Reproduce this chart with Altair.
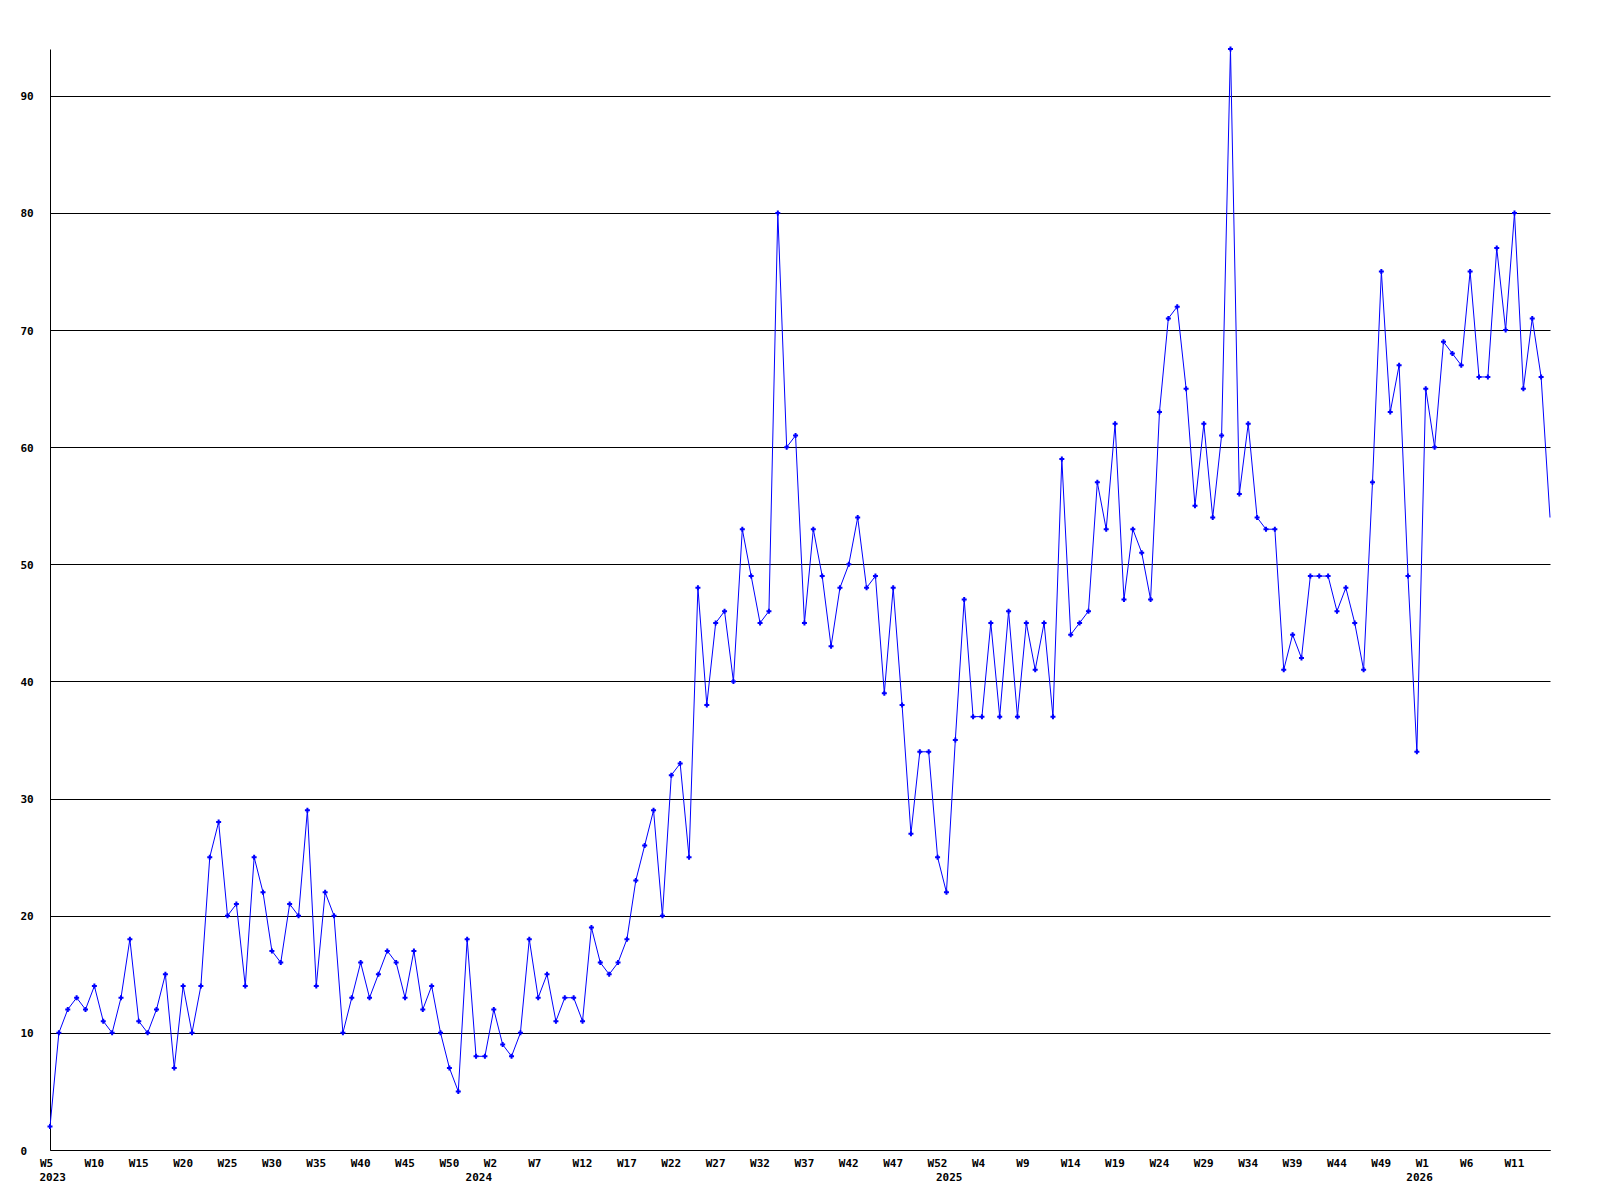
import altair as alt
import pandas as pd

# Weekly values, 2023 W5 .. 2026 W15
values = [
    2, 10, 12, 13, 12, 14, 11, 10, 13, 18,
    11, 10, 12, 15, 7, 14, 10, 14, 25, 28,
    20, 21, 14, 25, 22, 17, 16, 21, 20, 29,
    14, 22, 20, 10, 13, 16, 13, 15, 17, 16,
    13, 17, 12, 14, 10, 7, 5, 18, 8, 8,
    12, 9, 8, 10, 18, 13, 15, 11, 13, 13,
    11, 19, 16, 15, 16, 18, 23, 26, 29, 20,
    32, 33, 25, 48, 38, 45, 46, 40, 53, 49,
    45, 46, 80, 60, 61, 45, 53, 49, 43, 48,
    50, 54, 48, 49, 39, 48, 38, 27, 34, 34,
    25, 22, 35, 47, 37, 37, 45, 37, 46, 37,
    45, 41, 45, 37, 59, 44, 45, 46, 57, 53,
    62, 47, 53, 51, 47, 63, 71, 72, 65, 55,
    62, 54, 61, 94, 56, 62, 54, 53, 53, 41,
    44, 42, 49, 49, 49, 46, 48, 45, 41, 57,
    75, 63, 67, 49, 34, 65, 60, 69, 68, 67,
    75, 66, 66, 77, 70, 80, 65, 71, 66, 54,
]

tick_idx = [0, 5, 10, 15, 20, 25, 30, 35, 40, 45,
            50, 55, 60, 65, 70, 75, 80, 85, 90, 95, 100,
            105, 110, 115, 120, 125, 130, 135, 140, 145, 150,
            155, 160, 165]
tick_labels = ["W5", "W10", "W15", "W20", "W25", "W30", "W35", "W40", "W45", "W50",
               "W2", "W7", "W12", "W17", "W22", "W27", "W32", "W37", "W42", "W47", "W52",
               "W4", "W9", "W14", "W19", "W24", "W29", "W34", "W39", "W44", "W49",
               "W1", "W6", "W11"]
year_idx = [0, 48, 101, 154]
year_labels = ["2023", "2024", "2025", "2026"]
y_ticks = [0, 10, 20, 30, 40, 50, 60, 70, 80, 90]

W = 1500
H = 1101
FONT = "DejaVu Sans Mono"

n = len(values)
df = pd.DataFrame({"idx": list(range(n)), "value": values})
df["marker"] = df["idx"] < n - 1
years = pd.DataFrame({"idx": year_idx, "label": year_labels})

label_expr = f"{tick_labels}[indexof({tick_idx}, datum.value)]"

x_enc = alt.X(
    "idx:Q",
    scale=alt.Scale(domain=[0, n - 1], nice=False, zero=False),
    axis=alt.Axis(
        values=tick_idx,
        labelExpr=label_expr,
        grid=False,
        ticks=False,
        tickSize=0,
        domainColor="black",
        domainWidth=1,
        labelAlign="left",
        labelOffset=-10.5,
        labelPadding=7,
        labelBaseline="top",
        labelFont=FONT,
        labelFontWeight="bold",
        labelFontSize=11,
        labelColor="black",
        labelFlush=False,
        labelOverlap=False,
        title=None,
    ),
)

y_enc = alt.Y(
    "value:Q",
    scale=alt.Scale(domain=[0, 94], nice=False, zero=True),
    axis=alt.Axis(
        values=y_ticks,
        grid=True,
        gridColor="black",
        gridOpacity=1,
        gridWidth=1,
        ticks=False,
        tickSize=0,
        domainColor="black",
        domainWidth=1,
        labelAlign="left",
        labelBaseline="middle",
        labelPadding=30,
        labelOffset=1,
        labelFont=FONT,
        labelFontWeight="bold",
        labelFontSize=11,
        labelColor="black",
        labelFlush=False,
        labelOverlap=False,
        title=None,
    ),
)

base = alt.Chart(df)

line = base.mark_line(color="#0000ff", strokeWidth=1).encode(x=x_enc, y=y_enc)

points = base.mark_point(
    shape="cross", filled=True, size=25, color="#0000ff", opacity=1
).encode(
    x=alt.X("idx:Q"), y=alt.Y("value:Q")
).transform_filter("datum.marker")

year_text = alt.Chart(years).mark_text(
    align="left", baseline="top", dx=-10.5,
    font=FONT, fontWeight="bold", fontSize=11, color="black"
).encode(
    x=alt.X("idx:Q"),
    y=alt.value(H + 22),
    text="label:N",
)

chart = alt.layer(line, points, year_text).properties(
    width=W,
    height=H,
    autosize=alt.AutoSizeParams(type="none"),
    padding={"left": 42, "top": 41, "right": 10, "bottom": 60},
    background="white",
).configure_view(strokeWidth=0)

chart.save("out.html", embed_options={"renderer": "svg", "actions": False})
